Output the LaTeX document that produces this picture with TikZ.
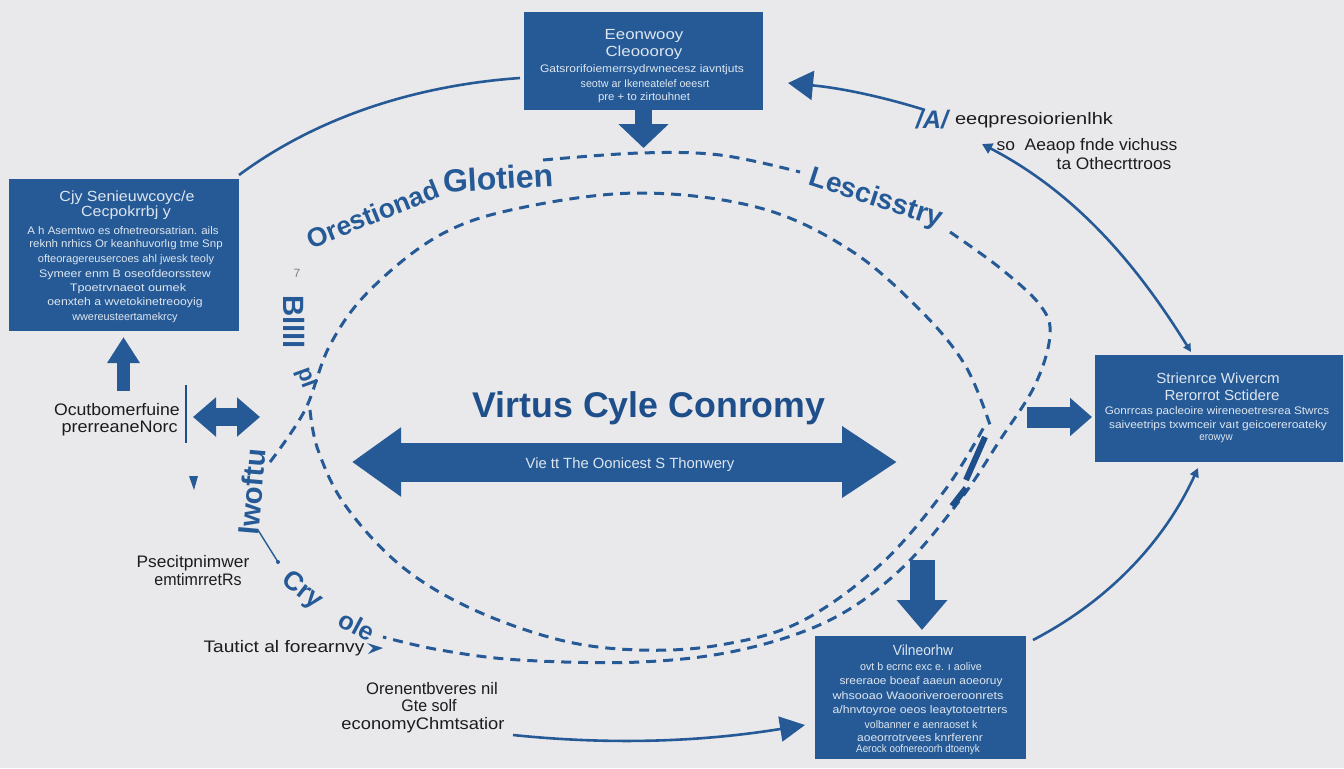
\documentclass[tikz,border=0pt]{standalone}
\usepackage{fontspec}
\usepackage{graphicx}
\setmainfont{Liberation Sans}
\usetikzlibrary{arrows.meta}
\newdimen\pxu \pxu=.75pt
\newcommand{\sx}[2]{\scalebox{#1}[1]{#2}}
\definecolor{bg}{HTML}{E9E9EB}
\definecolor{boxblue}{HTML}{265A96}
\definecolor{titleblue}{HTML}{1F4F8A}
\definecolor{boxtext}{HTML}{DDE6F0}
\definecolor{inktext}{HTML}{1C1C20}
\tikzset{
  x=.75pt,y=-.75pt,
  panel/.style={fill=boxblue,draw=none,inner sep=0pt,outer sep=0pt,anchor=north west},
  boxhead/.style={text=boxtext,font=\fontsize{11pt}{11pt}\selectfont,inner sep=0pt},
  boxbody/.style={text=boxtext,font=\fontsize{8.2pt}{8.2pt}\selectfont,inner sep=0pt},
  ink/.style={text=inktext,font=\fontsize{12.5pt}{12.5pt}\selectfont,inner sep=0pt},
  arc label/.style={text=boxblue,font=\bfseries\fontsize{#1pt}{#1pt}\selectfont,inner sep=0pt},
  block/.style={draw=boxblue,line width=#1\pxu},
  curve link/.style={draw=boxblue,line width=2.6\pxu},
  dash link/.style={draw=boxblue,line width=3\pxu,dash pattern=on 10\pxu off 7\pxu},
}
\begin{document}
\begin{tikzpicture}
\path[use as bounding box,fill=bg] (0,0) rectangle (1344,768);

% panels
\node[panel,minimum width=239\pxu,minimum height=98\pxu] (topbox) at (524,12) {};
\node[panel,minimum width=230\pxu,minimum height=152\pxu] (leftbox) at (9,179) {};
\node[panel,minimum width=248\pxu,minimum height=107\pxu] (rightbox) at (1095,355) {};
\node[panel,minimum width=211\pxu,minimum height=123\pxu] (botbox) at (815,636) {};

% top panel text
\node[boxhead] (t1) at (644,36) {\sx{1.15}{Eeonwooy}};
\node[boxhead] (t2) at (644,53) {\sx{1.15}{Cleoooroy}};
\node[boxbody] (t3) at (642,70) {\sx{1.1}{Gatsrorifoiemerrsydrwnecesz iavntjuts}};
\node[boxbody] (t4) at (645,84) {\sx{.98}{seotw ar Ikeneatelef oeesrt}};
\node[boxbody] (t5) at (644,98) {\sx{1.04}{pre + to zirtouhnet}};

% left panel text
\node[boxhead] (l1) at (127,198) {\sx{1.09}{Cjy Senieuwcoyc/e}};
\node[boxhead] (l2) at (126,213) {\sx{1.09}{Cecpokrrbj y}};
\node[boxbody] (l3) at (123,231) {\sx{1.05}{A h Asemtwo es ofnetreorsatrian. ails}};
\node[boxbody] (l4) at (126,245) {\sx{1.05}{reknh nrhics Or keanhuvorlıg tme Snp}};
\node[boxbody] (l5) at (126,260) {\sx{1.01}{ofteoragereusercoes ahl jwesk teoly}};
\node[boxbody] (l6) at (125,275) {\sx{1.13}{Symeer enm B oseofdeorsstew}};
\node[boxbody] (l7) at (128,289) {\sx{1.16}{Tpoetrvnaeot oumek}};
\node[boxbody] (l8) at (125,303) {\sx{1.12}{oenxteh a wvetokinetreooyig}};
\node[boxbody] (l9) at (125,318) {\sx{.99}{wwereusteertamekrcy}};

% right panel text
\node[boxhead] (r1) at (1218,378) {\sx{1.03}{Strienrce Wivercm}};
\node[boxhead] (r2) at (1222,395) {\sx{1.03}{Rerorrot Sctidere}};
\node[boxbody] (r3) at (1217,412) {\sx{1.07}{Gonrrcas pacleoire wireneoetresrea Stwrcs}};
\node[boxbody] (r4) at (1218,426) {\sx{1.09}{saiveetrips txwmceir vaıt geicoereroateky}};
\node[boxbody] (r5) at (1216,439) {\sx{.9}{erowyw}};

% bottom panel text
\node[boxhead] (b1) at (923,650) {\sx{.94}{Vilneorhw}};
\node[boxbody] (b2) at (921,667) {\sx{.98}{ovt b ecrnc exc e. ı aolive}};
\node[boxbody] (b3) at (921,682) {\sx{1.09}{sreeraoe boeaf aaeun aoeoruy}};
\node[boxbody] (b4) at (918,696) {\sx{1.15}{whsooao Waooriveroeroonrets}};
\node[boxbody] (b5) at (920,711) {\sx{1.12}{a/hnvtoyroe oeos leaytotoetrters}};
\node[boxbody] (b6) at (921,725) {\sx{.96}{volbanner e aenraoset k}};
\node[boxbody] (b7) at (920,738) {\sx{1.1}{aoeorrotrvees knrferenr}};
\node[boxbody] (b8) at (918,750) {\sx{.9}{Aerock oofnereoorh dtoenyk}};

% dashed loops
\draw[dash link] plot[smooth,tension=.6] coordinates {(270,462) (305,410) (330,345) (370,290) (440,235) (520,208) (640,193) (760,208) (850,250) (920,310) (965,365) (990,425)};
\draw[dash link] plot[smooth,tension=.6] coordinates {(310,410) (318,450) (345,505) (400,565) (470,608) (560,640) (640,650) (720,645) (800,622) (880,565) (945,490) (985,425)};
\draw[dash link] plot[smooth,tension=.6] coordinates {(543,160) (640,153) (720,155) (800,172)};
\draw[dash link] plot[smooth,tension=.6] coordinates {(950,232) (1000,268) (1040,305) (1050,335) (1035,385) (1000,440) (960,500) (900,570) (830,620) (740,650) (640,662) (520,660) (440,650) (383,637)};
\draw[draw=titleblue,line width=6\pxu] (985,437) -- (966,480);
\draw[draw=titleblue,line width=6\pxu] (966,488) -- (952,506);

% block arrows
\coordinate (a1s) at (643.5,110); \coordinate (a1e) at (643.5,148);
\draw[block=17,-{Triangle[length=18pt,width=36.75pt]}] (a1s) -- (a1e);
\coordinate (a2s) at (123.5,391); \coordinate (a2e) at (123.5,337);
\draw[block=13,-{Triangle[length=19.5pt,width=23.25pt]}] (a2s) -- (a2e);
\coordinate (a3s) at (193,417); \coordinate (a3e) at (260,417);
\draw[block=18,{Triangle[length=17.25pt,width=28.5pt]}-{Triangle[length=17.25pt,width=28.5pt]}] (a3s) -- (a3e);
\coordinate (a4s) at (1027,417); \coordinate (a4e) at (1092,417);
\draw[block=21,-{Triangle[length=16.5pt,width=27.75pt]}] (a4s) -- (a4e);
\coordinate (a5s) at (922,560); \coordinate (a5e) at (922,630);
\draw[block=25,-{Triangle[length=22.5pt,width=36.75pt]}] (a5s) -- (a5e);

% central double arrow
\coordinate (ca) at (352,462); \coordinate (cb) at (897,462);
\draw[block=39,{Triangle[length=36.75pt,width=49.5pt]}-{Triangle[length=41.25pt,width=51pt]}] (ca) -- (cb);
\node[text=boxtext,font=\fontsize{11.1pt}{12pt}\selectfont,inner sep=0pt] (calabel) at (630,465) {Vie tt The Oonicest S Thonwery};
\node[text=titleblue,font=\bfseries\fontsize{26.8pt}{28pt}\selectfont,inner sep=0pt] (title) at (649,408) {Virtus Cyle Conromy};

% curved links
\coordinate (c1a) at (239,175); \coordinate (c1b) at (520,78);
\draw[curve link] (c1a) .. controls (320,115) and (420,85) .. (c1b);
\coordinate (c2a) at (925,110); \coordinate (c2b) at (788,83);
\draw[curve link,-{Triangle[length=18.75pt,width=21.75pt]}] (c2a) .. controls (880,96) and (840,88) .. (c2b);
\coordinate (c3a) at (1191,352); \coordinate (c3b) at (982,144);
\draw[curve link,{Triangle[length=6pt,width=6pt]}-{Triangle[length=7.5pt,width=8.25pt]}] (c3a) .. controls (1140,270) and (1080,195) .. (c3b);
\coordinate (c4a) at (1033,640); \coordinate (c4b) at (1198,468);
\draw[curve link,-{Triangle[length=6.75pt,width=6.75pt]}] (c4a) .. controls (1110,600) and (1165,540) .. (c4b);
\coordinate (c5a) at (513,735); \coordinate (c5b) at (805,725);
\draw[curve link,-{Triangle[length=18.75pt,width=18.75pt]}] (c5a) .. controls (610,745) and (700,742) .. (c5b);

% thin rule and small marks
\coordinate (ruleA) at (186,385); \coordinate (ruleB) at (186,443);
\draw[draw=titleblue,line width=1.3\pxu] (ruleA) -- (ruleB);
\coordinate (m1a) at (258,530); \coordinate (m1b) at (278,562);
\draw[draw=boxblue,line width=1.4\pxu] (m1a) -- (m1b);
\fill[boxblue] (m1b) circle (2);
\node[text=gray,font=\fontsize{9pt}{10pt}\selectfont,inner sep=0pt] (seven) at (297,273) {7};
\fill[boxblue] (189,476) -- (198,476) -- (194,490) -- cycle;
\fill[boxblue] (367,643) -- (383,648) -- (368,654) -- (373,648) -- cycle;

% black labels
\node[ink,anchor=east] (k1) at (180,410) {\sx{1.06}{Ocutbomerfuine}};
\node[ink,anchor=east] (k2) at (178,428) {\sx{1.08}{prerreaneNorc}};
\node[ink] (k3) at (193,563) {\sx{1.04}{Psecitpnimwer}};
\node[ink] (k4) at (198,580) {\sx{.96}{emtimrretRs}};
\node[ink] (k5) at (284,648) {\sx{1.15}{Tautict al forearnvy}};
\node[ink] (k6) at (432,689) {Orenentbveres nil};
\node[ink] (k7) at (429,706) {\sx{.96}{Gte solf}};
\node[ink] (k8) at (423,725) {\sx{1.1}{economyChmtsatior}};
\node[ink] (k9) at (1034,120) {\sx{1.2}{eeqpresoiorienlhk}};
\node[ink] (k10) at (1087,146) {\sx{1.05}{so\ \ Aeaop fnde vichuss}};
\node[ink] (k11) at (1114,164) {\sx{1.04}{ta Othecrttroos}};

% text along the loops
\node[arc label=20,rotate=22] (o1) at (373,214) {Orestionad};
\node[arc label=24,rotate=3] (o2) at (498,178) {Glotien};
\node[arc label=21,rotate=-18] (o3) at (876,199) {Lescisstry};
\node[arc label=22,rotate=-90] (o4) at (294,322) {Bllll};
\node[arc label=17,rotate=-70] (o5) at (306,378) {pl};
\node[arc label=22,rotate=85] (o6) at (252,492) {Iwoftu};
\node[arc label=20,rotate=-38] (o7) at (302,591) {Cry};
\node[arc label=19,rotate=-28] (o8) at (357,626) {ole};
\node[text=boxblue,font=\bfseries\itshape\fontsize{19pt}{19pt}\selectfont,inner sep=0pt] (o9) at (932,120) {/A/};
\end{tikzpicture}
\end{document}
